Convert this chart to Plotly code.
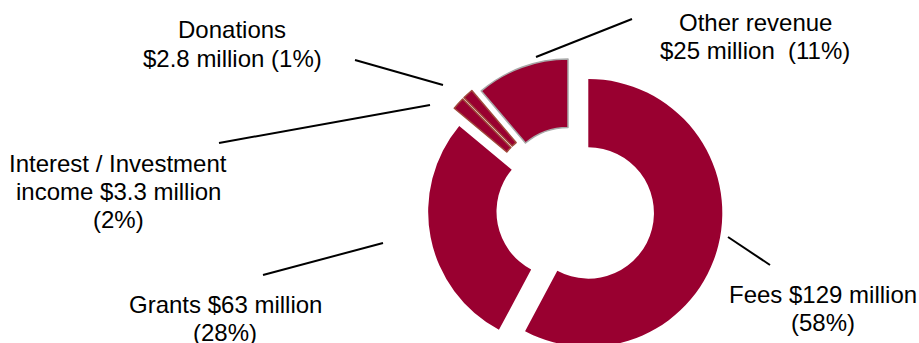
import plotly.graph_objects as go

# ---- data ----
categories = ["Fees", "Grants", "Interest / Investment income", "Donations", "Other revenue"]
values = [129, 63, 3.3, 2.8, 25]
label_lines = [
    ["Fees $129 million", "(58%)"],
    ["Grants $63 million", "(28%)"],
    ["Interest / Investment", "income $3.3 million", "(2%)"],
    ["Donations", "$2.8 million (1%)"],
    ["Other revenue", "$25 million\u00a0 (11%)"],
]

# ---- layout / style (pixels) ----
W, H = 919, 400
CX, CY, R = 574, 209.4, 134
pulls = [0.11, 0.09, 0.17, 0.17, 0.13]
fill = "#990030"
line_colors = [fill, fill, "#A04A3C", "#A04A3C", "#A8A8A8"]
line_widths = [0, 0, 1.5, 1.5, 1.5]

# per-label line centres (x, y of first line) and line spacing
label_pos = [(823, 294), (225, 304), (118, 163), (232, 30), (755, 22)]
line_gap = 28
leaders = [
    ((728, 237), (770, 265)),
    ((263, 275), (383, 243)),
    ((219, 143), (430, 105)),
    ((355, 60), (443, 85)),
    ((536, 57), (632, 19)),
]

half = R * (1 + max(pulls))
dom_x = [(CX - half) / W, (CX + half) / W]
dom_y = [(H - CY - half) / H, (H - CY + half) / H]

fig = go.Figure(
    go.Pie(
        labels=categories,
        values=values,
        hole=0.49,
        pull=pulls,
        sort=False,
        direction="clockwise",
        rotation=0,
        textinfo="none",
        marker=dict(colors=[fill] * len(values),
                    line=dict(color=line_colors, width=line_widths)),
        domain=dict(x=dom_x, y=dom_y),
        showlegend=False,
    )
)

def px(x):
    return x / W

def py(y):
    return 1 - y / H

annotations = []
for lines, (x0, y0) in zip(label_lines, label_pos):
    for k, t in enumerate(lines):
        annotations.append(dict(
            x=px(x0), y=py(y0 + k * line_gap), xref="paper", yref="paper",
            text=t, showarrow=False, xanchor="center", yanchor="middle",
            font=dict(family="Liberation Sans, Arial, sans-serif", size=24, color="#000000"),
        ))

shapes = []
for (a, b) in leaders:
    shapes.append(dict(type="line", xref="paper", yref="paper",
                       x0=px(a[0]), y0=py(a[1]), x1=px(b[0]), y1=py(b[1]),
                       line=dict(color="#000000", width=2)))

fig.update_layout(
    width=W, height=H,
    margin=dict(l=0, r=0, t=0, b=0),
    paper_bgcolor="white", plot_bgcolor="white",
    annotations=annotations, shapes=shapes,
)

fig.write_html(
    "out.html",
    config={"displayModeBar": False},
    post_script="document.body.style.margin='0';document.body.style.overflow='hidden';document.documentElement.style.overflow='hidden';",
)
